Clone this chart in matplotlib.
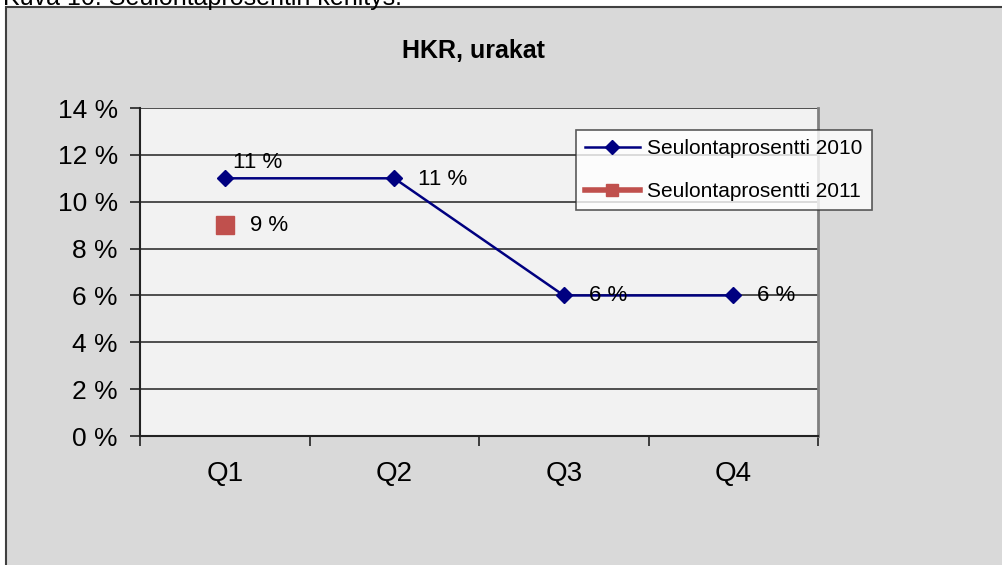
import matplotlib.pyplot as plt
from matplotlib.patches import Rectangle
from matplotlib.ticker import FuncFormatter, MultipleLocator

plt.rcParams['font.family'] = ['Liberation Sans', 'DejaVu Sans']

# Données
quarters = ['Q1', 'Q2', 'Q3', 'Q4']
values_2010 = [11, 11, 6, 6]
values_2011 = [9]
label_2010 = 'Seulontaprosentti 2010'
label_2011 = 'Seulontaprosentti 2011'

fig = plt.figure(figsize=(10.03, 5.65), dpi=100)
fig.patch.set_facecolor('white')

# fond gris du graphique
fig.patches.append(Rectangle((0.006, -0.01), 1.0, 0.997, transform=fig.transFigure,
                             facecolor='#d9d9d9', edgecolor='#404040', linewidth=1.5,
                             zorder=-10))
fig.text(0.003, 0.992, 'Kuva 10. Seulontaprosentin kehitys.', fontsize=18,
         va='baseline', ha='left', color='black')

ax = fig.add_axes([0.1396, 0.2283, 0.676, 0.5805])
ax.set_facecolor('#f2f2f2')

x = list(range(len(quarters)))
ax.plot(x, values_2010, color='#000080', linewidth=1.8, marker='D', markersize=8,
        label=label_2010, zorder=3)
ax.plot(x[:len(values_2011)], values_2011, color='#c0504d', linewidth=4, marker='s',
        markersize=13.5, linestyle='none', label=label_2011, zorder=3)

# étiquettes de données
offsets_2010 = [(6, 3.5), (17, -1), (18, 0), (17, 0)]
for xi, v, off in zip(x, values_2010, offsets_2010):
    va = 'bottom' if off[1] > 0 else 'center'
    ax.annotate(f'{v} %', (xi, v), xytext=off, textcoords='offset points',
                fontsize=16, ha='left', va=va, color='black', zorder=4)
for xi, v in zip(x, values_2011):
    ax.annotate(f'{v} %', (xi, v), xytext=(18, 0), textcoords='offset points',
                fontsize=16, ha='left', va='center', color='black', zorder=4)

ax.set_xlim(-0.5, 3.5)
ax.set_ylim(0, 14)
ax.yaxis.set_major_locator(MultipleLocator(2))
ax.yaxis.set_major_formatter(FuncFormatter(lambda v, p: f'{v:.0f} %'))
ax.set_xticks(x)
ax.set_xticklabels(quarters)
ax.set_xticks([-0.5, 0.5, 1.5, 2.5, 3.5], minor=True)
ax.tick_params(axis='x', which='major', length=0, pad=18, labelsize=20)
ax.tick_params(axis='x', which='minor', length=7, width=1.2, direction='out', color='#222222')
ax.tick_params(axis='y', length=7, width=1.2, direction='out', labelsize=19, pad=9, color='#222222')
ax.yaxis.grid(True, color='#333333', linewidth=1.2)
ax.set_axisbelow(True)

for side in ['left', 'bottom']:
    ax.spines[side].set_color('#222222')
    ax.spines[side].set_linewidth(1.5)
ax.spines['top'].set_visible(False)
ax.spines['right'].set_color('#808080')
ax.spines['right'].set_linewidth(2)

fig.text(0.472, 0.91, 'HKR, urakat', fontsize=18, fontweight='bold', ha='center', va='center')

leg = ax.legend(loc='upper left', bbox_to_anchor=(0.643, 0.934), fontsize=15,
                frameon=True, fancybox=False, handlelength=2.6, handletextpad=0.35,
                borderpad=0.45, labelspacing=1.15, borderaxespad=0)
leg.get_frame().set_edgecolor('#333333')
leg.get_frame().set_facecolor('white')
leg.get_frame().set_linewidth(1.2)
leg.legend_handles[0].set_markersize(7)
leg.legend_handles[1].set_linestyle('-')
leg.legend_handles[1].set_markersize(8)

fig.savefig('out.png', dpi=100, facecolor=fig.get_facecolor())
